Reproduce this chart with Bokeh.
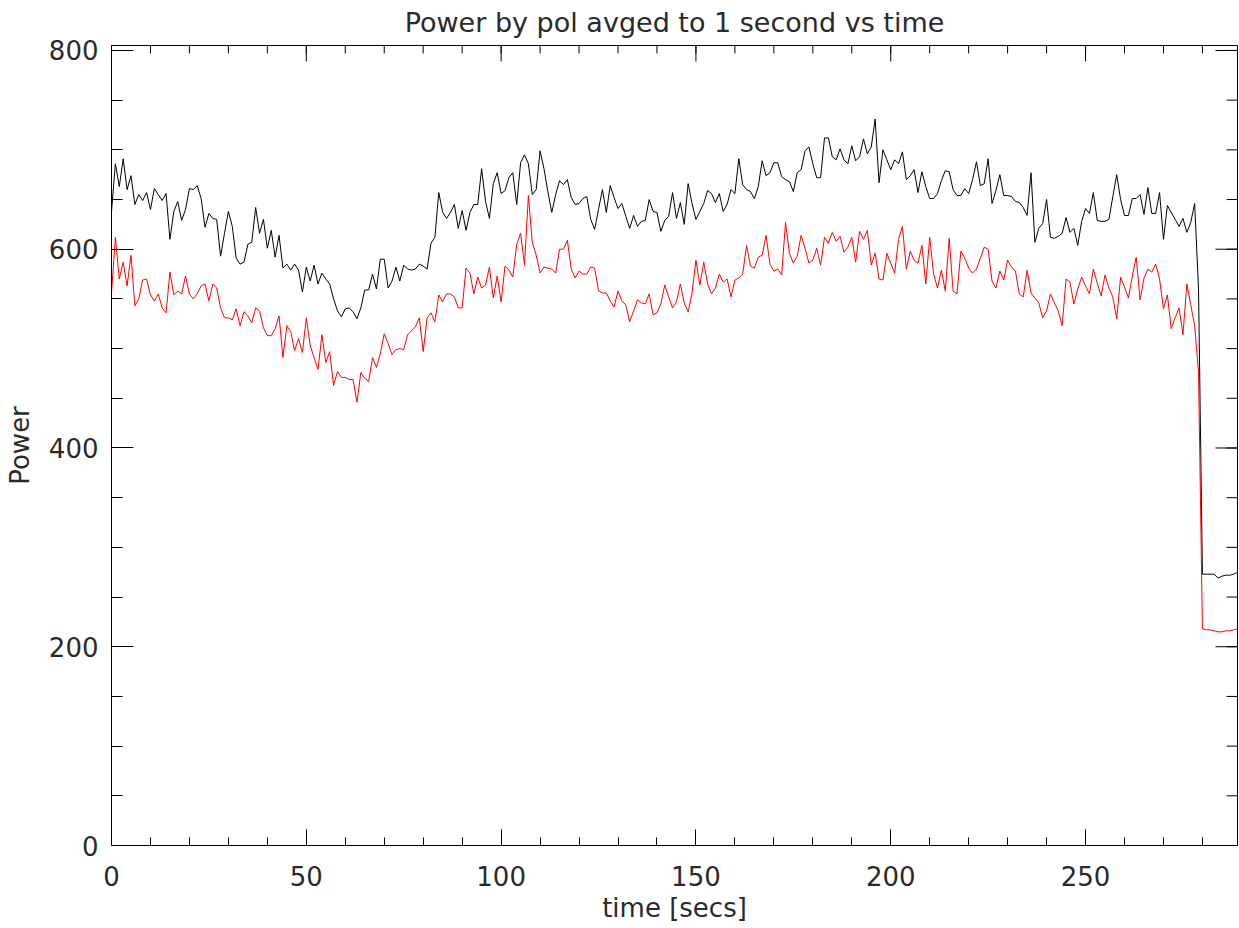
import math
from bokeh.plotting import figure
from bokeh.models import Range1d, FixedTicker
from bokeh.embed import file_html
from bokeh.resources import INLINE

# ---- data ----
time_secs = list(range(0, 290))

pol_black = [
    638, 686, 663, 691, 660, 674, 645, 655, 649, 657,
    640, 661, 655, 649, 656, 610, 638, 648, 629, 640,
    661, 660, 664, 651, 622, 636, 631, 630, 593, 616,
    638, 623, 591, 585, 587, 605, 607, 642, 616, 630,
    601, 619, 592, 614, 581, 585, 579, 585, 579, 557,
    582, 568, 584, 565, 576, 570, 565, 550, 538, 532,
    540, 541, 537, 530, 541, 559, 559, 575, 560, 590,
    590, 561, 568, 582, 568, 584, 580, 579, 580, 585,
    583, 580, 606, 612, 657, 637, 631, 637, 645, 621,
    639, 619, 637, 645, 645, 681, 648, 631, 666, 677,
    656, 659, 672, 677, 645, 687, 695, 686, 655, 660,
    699, 681, 658, 637, 655, 669, 665, 670, 652, 645,
    646, 651, 653, 630, 620, 640, 660, 637, 664, 652,
    641, 646, 633, 621, 634, 623, 628, 629, 650, 638,
    637, 618, 629, 633, 657, 631, 647, 625, 666, 646,
    630, 638, 646, 659, 656, 647, 656, 638, 645, 660,
    656, 691, 665, 660, 658, 651, 663, 689, 674, 677,
    687, 687, 673, 670, 668, 658, 677, 680, 699, 703,
    686, 672, 672, 712, 712, 693, 690, 701, 690, 686,
    704, 689, 693, 711, 696, 703, 731, 667, 700, 690,
    680, 690, 686, 698, 670, 674, 680, 657, 678, 663,
    651, 651, 656, 669, 679, 678, 660, 654, 654, 661,
    656, 670, 688, 664, 666, 691, 646, 659, 675, 654,
    654, 653, 648, 647, 642, 634, 677, 607, 621, 626,
    650, 612, 611, 613, 616, 632, 617, 621, 604, 628,
    641, 636, 657, 629, 628, 628, 630, 653, 675, 650,
    634, 634, 651, 651, 655, 635, 662, 636, 636, 657,
    610, 644, 637, 630, 623, 631, 617, 627, 646, 560,
    273, 273, 273, 273, 269, 271, 272, 272, 273, 275,
]

pol_red = [
    556, 612, 570, 587, 563, 594, 543, 550, 569, 570,
    554, 548, 555, 541, 536, 577, 554, 558, 555, 573,
    555, 550, 555, 563, 565, 548, 565, 561, 541, 531,
    531, 529, 540, 523, 537, 533, 526, 541, 538, 521,
    513, 513, 520, 533, 491, 523, 517, 498, 510, 496,
    531, 503, 491, 479, 514, 486, 497, 463, 477, 471,
    471, 469, 469, 446, 476, 470, 467, 491, 481, 495,
    515, 505, 494, 499, 500, 499, 514, 518, 522, 531,
    497, 531, 536, 527, 554, 547, 555, 555, 552, 541,
    541, 581, 576, 555, 572, 561, 564, 582, 551, 573,
    547, 583, 579, 572, 605, 616, 584, 654, 607, 594,
    576, 582, 581, 580, 576, 600, 600, 609, 580, 571,
    578, 575, 575, 582, 581, 558, 556, 556, 548, 542,
    558, 548, 544, 527, 538, 549, 546, 545, 555, 534,
    536, 545, 564, 552, 541, 547, 565, 546, 537, 556,
    589, 564, 587, 565, 555, 561, 575, 567, 570, 552,
    569, 571, 575, 604, 583, 581, 592, 594, 614, 585,
    578, 580, 574, 627, 596, 586, 593, 614, 601, 586,
    589, 601, 584, 612, 606, 617, 608, 613, 597, 602,
    612, 587, 618, 610, 619, 584, 596, 570, 569, 596,
    586, 576, 610, 623, 580, 598, 589, 586, 604, 565,
    612, 575, 561, 579, 558, 611, 558, 555, 598, 591,
    581, 576, 580, 591, 602, 600, 568, 561, 578, 569,
    589, 582, 578, 555, 552, 579, 556, 551, 546, 531,
    538, 555, 546, 538, 523, 570, 567, 545, 560, 572,
    563, 555, 580, 566, 553, 574, 561, 552, 530, 572,
    562, 551, 573, 592, 549, 571, 580, 577, 585, 570,
    540, 554, 520, 531, 541, 514, 565, 544, 523, 476,
    218, 217, 217, 216, 215, 215, 216, 216, 217, 218,
]

x_major_ticks = [0, 50, 100, 150, 200, 250]
x_minor_ticks = list(range(0, 290, 10))
y_major_ticks = [0, 200, 400, 600, 800]
y_minor_ticks = list(range(0, 810, 50))
x_end = 289
y_end = 805

FONT = "DejaVu Sans"
TXT = "#2a2a2a"

p = figure(
    width=1239, height=928,
    output_backend="svg", toolbar_location=None,
    x_range=Range1d(0, x_end), y_range=Range1d(0, y_end),
    min_border_left=111, min_border_right=2,
    min_border_top=44, min_border_bottom=83,
    title="Power by pol avged to 1 second vs time",
    x_axis_label="time [secs]", y_axis_label="Power",
)
p.grid.visible = False
p.outline_line_color = "black"
p.outline_line_width = 1
p.background_fill_color = "white"
p.border_fill_color = "white"

p.title.align = "center"
p.title.vertical_align = "top"
p.title.text_font = FONT
p.title.text_font_size = "27px"
p.title.text_font_style = "normal"
p.title.text_color = TXT
p.title.standoff = 12

xt = FixedTicker(ticks=x_major_ticks, minor_ticks=x_minor_ticks)
yt = FixedTicker(ticks=y_major_ticks, minor_ticks=y_minor_ticks)


def style_axis(ax, major_len, minor_len):
    ax.axis_line_color = "black"
    ax.axis_line_width = 1
    ax.major_tick_line_color = "black"
    ax.minor_tick_line_color = "black"
    ax.major_tick_in = major_len
    ax.major_tick_out = 0
    ax.minor_tick_in = minor_len
    ax.minor_tick_out = 0
    ax.major_label_text_font = FONT
    ax.major_label_text_font_size = "26px"
    ax.major_label_text_color = TXT
    ax.axis_label_text_font = FONT
    ax.axis_label_text_font_size = "26px"
    ax.axis_label_text_font_style = "normal"
    ax.axis_label_text_color = TXT


xa = p.xaxis[0]
xa.ticker = xt
style_axis(xa, 16, 8)
xa.major_label_standoff = 20
xa.axis_label_standoff = 4

ya = p.yaxis[0]
ya.ticker = yt
style_axis(ya, 22, 11)
ya.major_label_standoff = 13
ya.axis_label_standoff = 11

# mirrored inward ticks on the top and right frame edges (no labels)
p.ray(x=x_minor_ticks, y=[y_end] * len(x_minor_ticks), length=8,
      angle=-math.pi / 2, length_units="screen", line_color="black", line_width=1)
p.ray(x=x_major_ticks, y=[y_end] * len(x_major_ticks), length=16,
      angle=-math.pi / 2, length_units="screen", line_color="black", line_width=1)
p.ray(x=[x_end] * len(y_minor_ticks), y=y_minor_ticks, length=11,
      angle=math.pi, length_units="screen", line_color="black", line_width=1)
p.ray(x=[x_end] * len(y_major_ticks), y=y_major_ticks, length=22,
      angle=math.pi, length_units="screen", line_color="black", line_width=1)

p.line(time_secs, pol_black, line_color="black", line_width=1)
p.line(time_secs, pol_red, line_color="#ff0000", line_width=1)

open("out.html", "w").write(file_html(p, INLINE))
